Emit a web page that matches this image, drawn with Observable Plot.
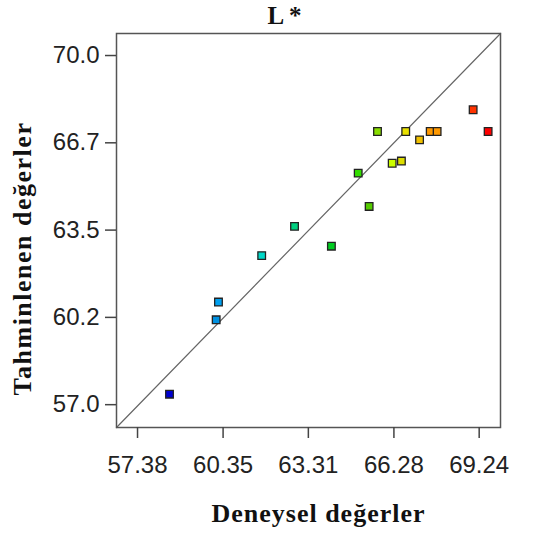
<!DOCTYPE html>
<html>
<head>
<meta charset="utf-8">
<script src="https://cdn.jsdelivr.net/npm/d3@7"></script>
<script src="https://cdn.jsdelivr.net/npm/@observablehq/plot@0.6"></script>
<style>
  html, body { margin: 0; padding: 0; background: #fff; }
  #chart { width: 534px; height: 534px; }
</style>
</head>
<body>
<div id="chart"></div>
<script>
// Experimental (Deneysel) vs predicted (Tahminlenen) L* values
const deneysel = [58.49, 60.11, 60.19, 61.69, 62.83, 64.11, 65.04, 65.42, 65.71, 66.22, 66.54, 66.69, 67.17, 67.54, 67.78, 69.03, 69.55];
const tahmin   = [57.39, 60.16, 60.82, 62.55, 63.64, 62.90, 65.62, 64.38, 67.17, 65.99, 66.07, 67.17, 66.86, 67.17, 67.17, 67.98, 67.17];
const renkler  = ["#0000d0", "#0090e0", "#00a0f0", "#00d8c8", "#00d080", "#00cc20", "#33dd00", "#55cc00", "#88dd00",
                  "#ccff00", "#dddd00", "#e8e000", "#f0c000", "#ff9900", "#ff9900", "#ff3300", "#ff0000"];

const xTicks = [57.38, 60.35, 63.31, 66.28, 69.24];
const xTickLabels = ["57.38", "60.35", "63.31", "66.28", "69.24"];
const yTicks = [57.0, 60.25, 63.5, 66.75, 70.0];
const yTickLabels = ["57.0", "60.2", "63.5", "66.7", "70.0"];

const xDomain = [56.65, 69.98];
const yDomain = [56.15, 70.82];

const title = "L *";
const xTitle = "Deneysel değerler";
const yTitle = "Tahminlenen değerler";

const points = deneysel.map((d, i) => ({x: d, y: tahmin[i], c: renkler[i]}));
const diag = [{x: xDomain[0], y: yDomain[0]}, {x: xDomain[1], y: yDomain[1]}];

const sans = "'Liberation Sans', Arial, sans-serif";
const serif = "'Liberation Serif', 'Times New Roman', serif";

const chart = Plot.plot({
  width: 534,
  height: 534,
  marginLeft: 116,
  marginRight: 34,
  marginTop: 33,
  marginBottom: 107,
  style: {background: "#fff", color: "#222", fontFamily: sans},
  x: {domain: xDomain},
  y: {domain: yDomain},
  marks: [
    Plot.line(diag, {x: "x", y: "y", stroke: "#666", strokeWidth: 1.2}),
    Plot.frame({stroke: "#555", strokeWidth: 1.5}),
    Plot.axisX({ticks: xTicks, tickFormat: (d, i) => xTickLabels[i], tickSize: 11, tickPadding: 17, fontSize: 24, label: null, stroke: "#444", strokeWidth: 1.5, fill: "#222"}),
    Plot.axisY({ticks: yTicks, tickFormat: (d, i) => yTickLabels[i], tickSize: 11, tickPadding: 6, fontSize: 24, label: null, stroke: "#444", strokeWidth: 1.5, fill: "#222"}),
    Plot.dot(points, {x: "x", y: "y", fill: "c", symbol: "square", r: 4.3, stroke: "#222", strokeWidth: 1.3}),
    Plot.text([title], {frameAnchor: "top", dx: -24, dy: -10, lineAnchor: "bottom", textAnchor: "middle", fontSize: 25, fontWeight: "bold", fontFamily: serif, fill: "#111"}),
    Plot.text([xTitle], {frameAnchor: "bottom", dx: 10, dy: 94, lineAnchor: "bottom", textAnchor: "middle", fontSize: 26, fontWeight: "bold", fontFamily: serif, fill: "#111"}),
    Plot.text([yTitle], {frameAnchor: "left", dx: -94, dy: 28, rotate: -90, lineAnchor: "middle", textAnchor: "middle", fontSize: 26, fontWeight: "bold", fontFamily: serif, fill: "#111"})
  ]
});
// widen the letter spacing of the two axis titles, as in the reference
d3.select(chart).selectAll("text").each(function() {
  const t = this.textContent;
  if (t === xTitle) this.setAttribute("letter-spacing", "1px");
  if (t === yTitle) this.setAttribute("letter-spacing", "1.5px");
});
document.getElementById("chart").appendChild(chart);
</script>
</body>
</html>
